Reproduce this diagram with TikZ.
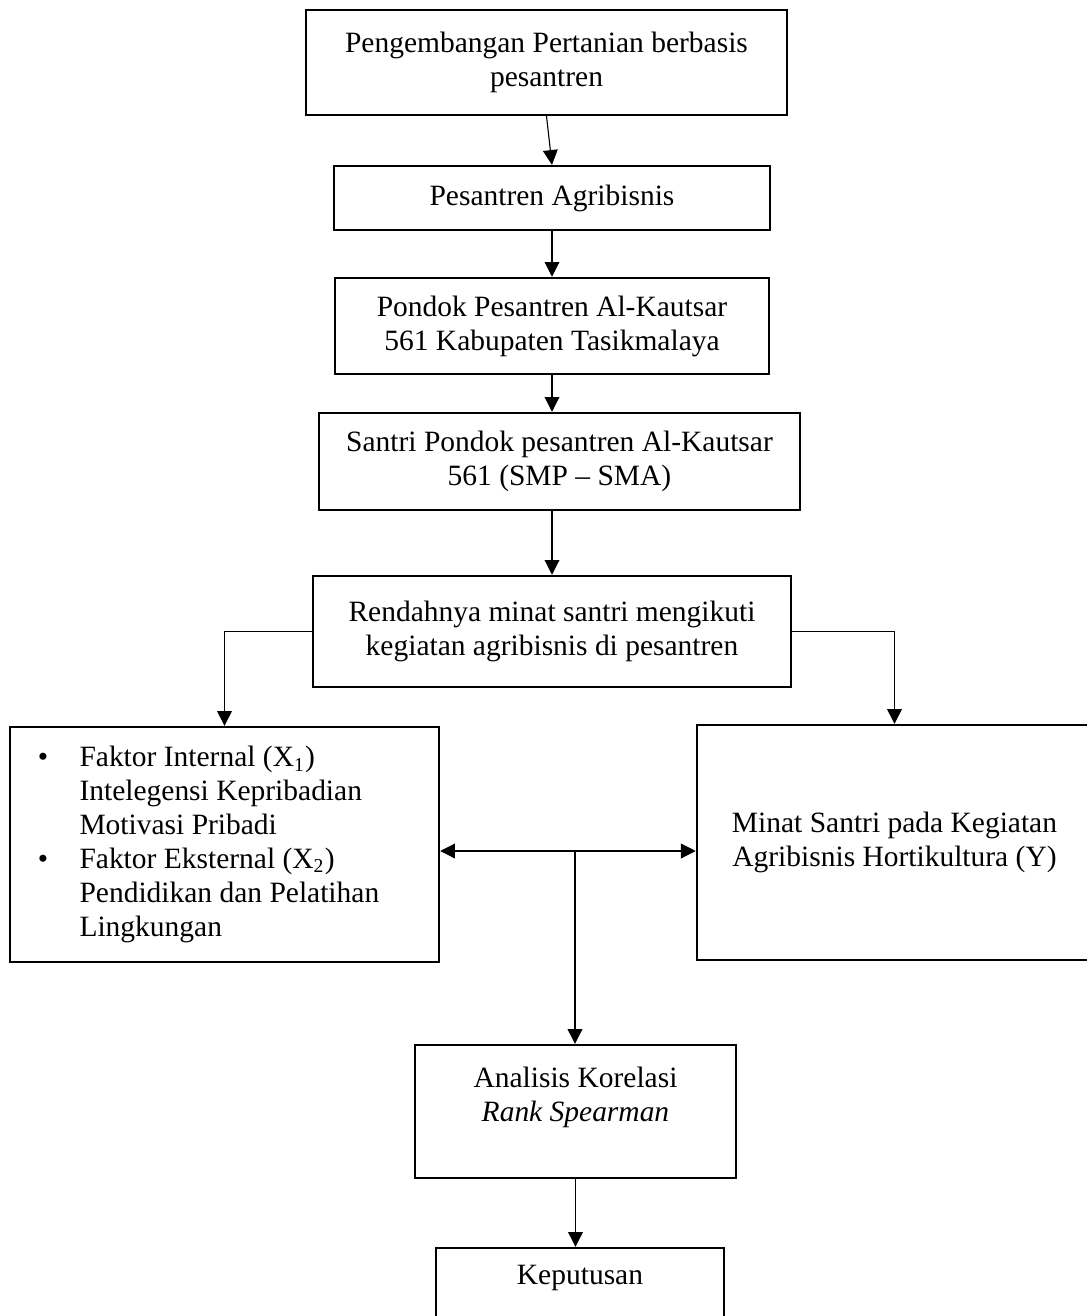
\documentclass[tikz,border=0pt]{standalone}
\usepackage{fontspec}
\setmainfont{Liberation Serif}
\usetikzlibrary{arrows.meta}
\tikzset{
  box/.style={draw, line width=1pt, align=center, inner sep=0pt,
    font=\fontsize{12pt}{13.8pt}\selectfont},
  arr/.style={-{Triangle[length=6pt,width=6pt]}, line width=0.45pt},
}
\begin{document}
\begin{tikzpicture}[x=0.407pt, y=-0.407pt]
  \useasboundingbox (0,0) rectangle (1086,1316);
  % main column
  \node[box, minimum width=195.8pt, minimum height=42.7pt] (dev) at (546.5,62.5)
    {Pengembangan Pertanian berbasis\\pesantren};
  \node[box, minimum width=177.5pt, minimum height=26pt] (pes) at (552,198)
    {Pesantren Agribisnis};
  \node[box, minimum width=176.6pt, minimum height=39.1pt] (pon) at (552,326)
    {Pondok Pesantren Al-Kautsar\\561 Kabupaten Tasikmalaya};
  \node[box, minimum width=195.8pt, minimum height=39.5pt] (san) at (559.5,461.5)
    {Santri Pondok pesantren Al-Kautsar\\561 (SMP -- SMA)};
  \node[box, minimum width=194.5pt, minimum height=45.2pt] (ren) at (552,631.5)
    {Rendahnya minat santri mengikuti\\kegiatan agribisnis di pesantren};
  % variables
  \node[box, align=flush left, text width=152pt, inner xsep=11.3pt, minimum height=95.6pt]
    (fac) at (224.5,844.5)
    {\makebox[17pt][l]{\textbullet}Faktor Internal (X\textsubscript{1})\\
     \hspace*{17pt}Intelegensi Kepribadian\\
     \hspace*{17pt}Motivasi Pribadi\\
     \makebox[17pt][l]{\textbullet}Faktor Eksternal (X\textsubscript{2})\\
     \hspace*{17pt}Pendidikan dan Pelatihan\\
     \hspace*{17pt}Lingkungan};
  \node[box, minimum width=160.8pt, minimum height=95.6pt] (min) at (894.5,842.5)
    {Minat Santri pada Kegiatan\\Agribisnis Hortikultura (Y)};
  % analysis
  \node[box, minimum width=130.6pt, minimum height=54.1pt] (ana) at (575.5,1111.5)
    {Analisis Korelasi\\\textit{Rank Spearman}\\\mbox{}};
  \node[box, minimum width=117.2pt, minimum height=35.8pt] (dec) at (580,1292)
    {Keputusan\\\mbox{}};
  \coordinate (mid) at (575,851);

  \draw[arr] (dev.south) -- (pes.north);
  \draw[arr] (pes) -- (pon);
  \draw[arr] (pon.south) -- (pon.south |- san.north);
  \draw[arr] (ren.north |- san.south) -- (ren.north);
  \draw[arr] (ren.west) -| (fac.north);
  \draw[arr] (ren.east) -| (min.north);
  \draw[arr] (mid) -- (mid -| fac.east);
  \draw[arr] (mid) -- (mid -| min.west);
  \draw[arr] (mid) -- (mid |- ana.north);
  \draw[arr] (ana.south) -- (ana.south |- dec.north);
\end{tikzpicture}
\end{document}
